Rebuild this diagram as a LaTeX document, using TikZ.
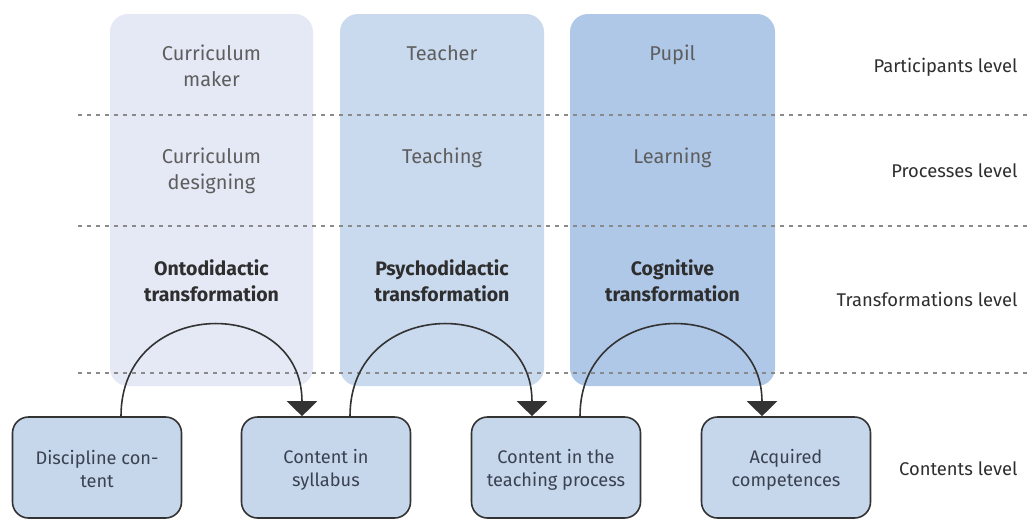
\documentclass[tikz,border=0pt]{standalone}
\usepackage{fontspec}
\setmainfont{Fira Sans}
\usetikzlibrary{arrows.meta}
\definecolor{colA}{HTML}{E4E9F5}
\definecolor{colB}{HTML}{C9D9EE}
\definecolor{colC}{HTML}{AFC8E7}
\definecolor{boxfill}{HTML}{C6D7EC}
\definecolor{boxline}{HTML}{333333}
\definecolor{graytext}{HTML}{5E5E5E}
\definecolor{darktext}{HTML}{2E2E2E}
\definecolor{boxtext}{HTML}{3A4150}
\definecolor{dashcol}{HTML}{8A8A8A}
\tikzset{
  colbox/.style={rounded corners=18pt},
  levelsep/.style={draw=dashcol, line width=1.1pt, dash pattern=on 4pt off 5pt},
  coltext/.style={text=graytext, align=center, font=\fontsize{20}{26}\selectfont},
  boldtext/.style={text=darktext, align=center, font=\fontsize{19.5}{26}\selectfont\bfseries},
  leveltext/.style={text=darktext, anchor=east, font=\fontsize{18.4}{24}\selectfont},
  contentbox/.style={draw=boxline, fill=boxfill, line width=1.6pt, rounded corners=16pt,
    minimum width=169pt, minimum height=101pt, align=center, text=boxtext,
    font=\fontsize{18.2}{23}\selectfont},
  flow/.style={draw=boxline, line width=1.6pt, -{Triangle[width=30pt,length=15pt]}}
}
\begin{document}
\begin{tikzpicture}[x=1pt,y=-1pt]
\useasboundingbox (0,0) rectangle (1031,520);
% columns
\fill[colA,colbox] (110,14) rectangle (313,386);
\fill[colB,colbox] (340,14) rectangle (544,386);
\fill[colC,colbox] (570,14) rectangle (775,386);
% level separators
\draw[levelsep] (78,115) -- (1031,115);
\draw[levelsep] (78,226) -- (1031,226);
\draw[levelsep] (78,373) -- (1031,373);
% participants
\node[coltext] (cm) at (211.5,66) {Curriculum\\maker};
\node[coltext] (te) at (442,53) {Teacher};
\node[coltext] (pu) at (672.5,55) {Pupil};
% processes
\node[coltext] (cd) at (211.5,171) {Curriculum\\designing};
\node[coltext] (tg) at (442,158) {Teaching};
\node[coltext] (le) at (672.5,158) {Learning};
% transformations
\node[boldtext] (ot) at (211.5,281) {Ontodidactic\\transformation};
\node[boldtext] (pt) at (442,281) {Psychodidactic\\transformation};
\node[boldtext] (ct) at (672.5,281) {Cognitive\\transformation};
% level labels
\node[leveltext] (l1) at (1021,67) {Participants level};
\node[leveltext] (l2) at (1021,171) {Processes level};
\node[leveltext] (l3) at (1021,299) {Transformations level};
\node[leveltext] (l4) at (1021,469) {Contents level};
% content boxes
\node[contentbox] (b1) at (97,467.5) {};
\node[contentbox] (b2) at (326,467.5) {};
\node[contentbox] (b3) at (556,467.5) {};
\node[contentbox] (b4) at (786,467.5) {};
\node[contentbox, draw=none, fill=none] (t1) at (97,469.5) {Discipline con-\\tent};
\node[contentbox, draw=none, fill=none] (t2) at (326,469.5) {Content in\\syllabus};
\node[contentbox, draw=none, fill=none] (t3) at (556,469.5) {Content in the\\teaching process};
\node[contentbox, draw=none, fill=none] (t4) at (786,469.5) {Acquired\\competences};
% transformations arrows
\draw[flow] ([xshift=24pt]b1.north) .. controls +(0,-121) and +(0,-121) .. ([xshift=-24pt]b2.north);
\draw[flow] ([xshift=24pt]b2.north) .. controls +(0,-121) and +(0,-121) .. ([xshift=-24pt]b3.north);
\draw[flow] ([xshift=24pt]b3.north) .. controls +(0,-121) and +(0,-121) .. ([xshift=-24pt]b4.north);
\end{tikzpicture}
\end{document}
